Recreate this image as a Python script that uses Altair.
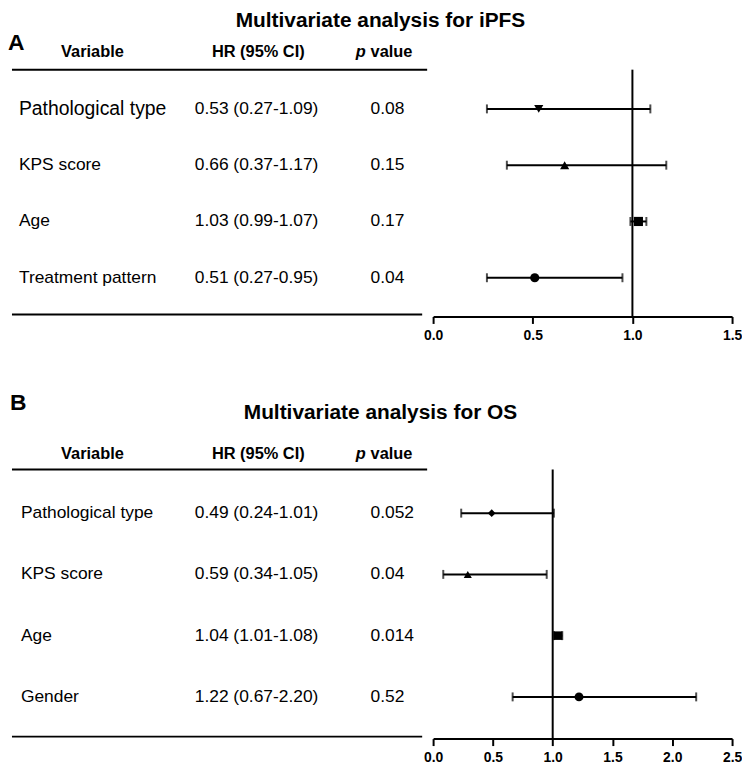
import altair as alt
import pandas as pd

FONT = "Liberation Sans, Arial"

# ---------------- Panel A data (iPFS) ----------------
title_A = "Multivariate analysis for iPFS"
variables_A = ["Pathological type", "KPS score", "Age", "Treatment pattern"]
hr_text_A = ["0.53 (0.27-1.09)", "0.66 (0.37-1.17)", "1.03 (0.99-1.07)", "0.51 (0.27-0.95)"]
p_text_A = ["0.08", "0.15", "0.17", "0.04"]
hr_A = [0.53, 0.66, 1.03, 0.51]
lo_A = [0.27, 0.37, 0.99, 0.27]
hi_A = [1.09, 1.17, 1.07, 0.95]
ticks_A = [0.0, 0.5, 1.0, 1.5]

# ---------------- Panel B data (OS) ----------------
title_B = "Multivariate analysis for OS"
variables_B = ["Pathological type", "KPS score", "Age", "Gender"]
hr_text_B = ["0.49 (0.24-1.01)", "0.59 (0.34-1.05)", "1.04 (1.01-1.08)", "1.22 (0.67-2.20)"]
p_text_B = ["0.052", "0.04", "0.014", "0.52"]
# values as drawn in the plot
hr_B = [0.49, 0.29, 1.045, 1.22]
lo_B = [0.235, 0.085, 1.01, 0.665]
hi_B = [1.01, 0.95, 1.08, 2.20]
ticks_B = [0.0, 0.5, 1.0, 1.5, 2.0, 2.5]

headers = ["Variable", "HR (95% CI)", "p", "value"]
ref_value = [1.0]


def panel(letter, title, variables, hr_text, p_text, hr, lo, hi, ticks,
          shapes, sizes, H, rows_range, title_y, letter_y, header_y, line_y,
          bottom_y, label_x, first_big):
    df = pd.DataFrame({"variable": variables, "hr_text": hr_text, "p_text": p_text,
                       "hr": hr, "lo": lo, "hi": hi})
    xscale = alt.Scale(domain=[ticks[0], ticks[-1]], range=[428, 729], nice=False, zero=False)
    yenc = alt.Y("variable:N", sort=variables,
                 scale=alt.Scale(type="point", domain=variables, range=rows_range, padding=0),
                 axis=None)
    base = alt.Chart(df)

    xaxis = alt.Axis(values=ticks, format=".1f", title=None, grid=False,
                     labelFont=FONT, labelFontSize=14, labelFontWeight="bold",
                     labelColor="black", domainColor="black", domainWidth=2,
                     tickColor="black", tickWidth=2, tickSize=7, labelPadding=5,
                     labelFlush=False)

    ref = alt.Chart(pd.DataFrame({"ref": ref_value})).mark_rule(
        color="black", strokeWidth=2
    ).encode(x=alt.X("ref:Q", scale=xscale, axis=xaxis),
             y=alt.value(line_y), y2=alt.value(H))

    bars = base.mark_rule(color="black", strokeWidth=2).encode(
        x=alt.X("lo:Q", scale=xscale), x2="hi:Q", y=yenc)

    caps = base.transform_fold(["lo", "hi"], as_=["end", "val"]).mark_tick(
        color="black", thickness=2, size=9, orient="vertical"
    ).encode(x=alt.X("val:Q", scale=xscale), y=yenc)

    pts = base.mark_point(filled=True, color="black", opacity=1, strokeWidth=0).encode(
        x=alt.X("hr:Q", scale=xscale), y=yenc,
        shape=alt.Shape("variable:N", scale=alt.Scale(domain=variables, range=shapes), legend=None),
        size=alt.Size("variable:N", scale=alt.Scale(domain=variables, range=sizes), legend=None))

    if first_big:
        lab_size = alt.condition(alt.datum.variable == variables[0], alt.value(19.5), alt.value(17.5))
    else:
        lab_size = alt.value(17.5)

    labels = base.mark_text(align="left", baseline="middle", font=FONT, color="black").encode(
        text="variable:N", x=alt.value(label_x), y=yenc, size=lab_size)
    hrt = base.mark_text(align="left", baseline="middle", font=FONT, color="black",
                         fontSize=17.5).encode(text="hr_text:N", x=alt.value(188), y=yenc)
    pt = base.mark_text(align="left", baseline="middle", font=FONT, color="black",
                        fontSize=17.5).encode(text="p_text:N", x=alt.value(365), y=yenc)

    tdf = pd.DataFrame({"t": [title], "l": [letter], "h0": [headers[0]], "h1": [headers[1]],
                        "h2": [headers[2]], "h3": [headers[3]]})
    tb = alt.Chart(tdf)
    ttl = tb.mark_text(align="center", baseline="middle", font=FONT, fontSize=21,
                       fontWeight="bold", color="black").encode(
        text="t:N", x=alt.value(375), y=alt.value(title_y))
    let = tb.mark_text(align="left", baseline="middle", font=FONT, fontSize=23,
                       fontWeight="bold", color="black").encode(
        text="l:N", x=alt.value(letter_y[0]), y=alt.value(letter_y[1]))
    h0 = tb.mark_text(align="center", baseline="middle", font=FONT, fontSize=16.5,
                      fontWeight="bold", color="black").encode(
        text="h0:N", x=alt.value(85), y=alt.value(header_y))
    h1 = tb.mark_text(align="center", baseline="middle", font=FONT, fontSize=16.5,
                      fontWeight="bold", color="black").encode(
        text="h1:N", x=alt.value(252), y=alt.value(header_y))
    h2 = tb.mark_text(align="left", baseline="middle", font=FONT, fontSize=16.5,
                      fontWeight="bold", fontStyle="italic", color="black").encode(
        text="h2:N", x=alt.value(350), y=alt.value(header_y))
    h3 = tb.mark_text(align="left", baseline="middle", font=FONT, fontSize=16.5,
                      fontWeight="bold", color="black").encode(
        text="h3:N", x=alt.value(365), y=alt.value(header_y))

    top_line = tb.mark_rule(color="black", strokeWidth=2).encode(
        x=alt.value(4), x2=alt.value(422), y=alt.value(line_y))
    bot_line = tb.mark_rule(color="black", strokeWidth=2).encode(
        x=alt.value(4), x2=alt.value(417), y=alt.value(bottom_y))

    return alt.layer(ref, bars, caps, pts, labels, hrt, pt, ttl, let, h0, h1, h2, h3,
                     top_line, bot_line).properties(width=734, height=H)


panel_A = panel("A", title_A, variables_A, hr_text_A, p_text_A, hr_A, lo_A, hi_A, ticks_A,
                shapes=["triangle-down", "triangle-up", "square", "circle"],
                sizes=[85, 85, 100, 70], H=307, rows_range=[98, 268],
                title_y=10, letter_y=(0, 32), header_y=41, line_y=58.5, bottom_y=305,
                label_x=11, first_big=True)

panel_B = panel("B", title_B, variables_B, hr_text_B, p_text_B, hr_B, lo_B, hi_B, ticks_B,
                shapes=["diamond", "triangle-up", "square", "circle"],
                sizes=[60, 80, 110, 65], H=380, rows_range=[153, 338],
                title_y=52, letter_y=(2, 42), header_y=93, line_y=109, bottom_y=378,
                label_x=13, first_big=False)

chart = alt.vconcat(panel_A, panel_B, spacing=45, bounds="flush").resolve_scale(
    shape="independent", size="independent"
).properties(
    padding=0, background="white"
).configure_view(stroke=None)

chart.save("out.html", embed_options={"renderer": "svg", "actions": False})
